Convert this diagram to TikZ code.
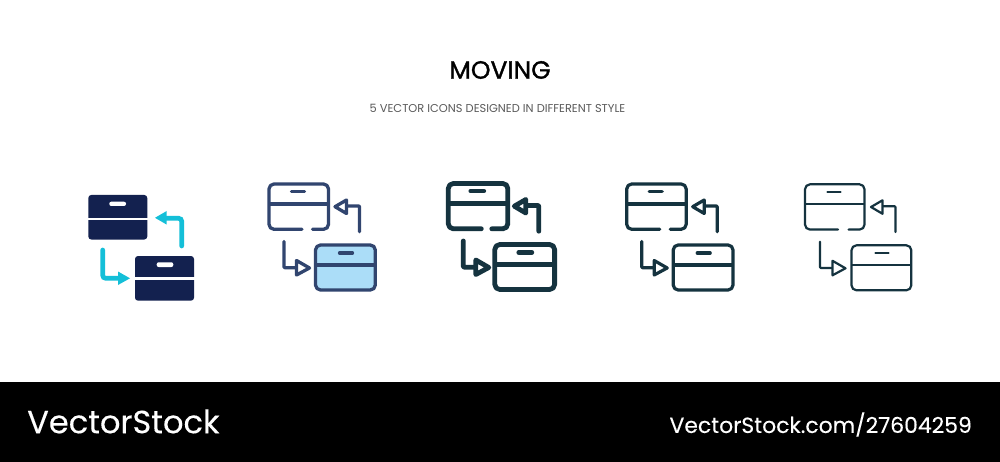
\documentclass[tikz,border=0pt]{standalone}
\usepackage{fontspec}
\setmainfont{Poppins}
\newfontfamily\titlefont[FakeBold=1.3]{Poppins}
\newfontfamily\brandfont[FakeBold=.15]{Poppins}
\usepackage{tikz}
\definecolor{NavyBox}{HTML}{13214F}
\definecolor{CyanArrow}{HTML}{14BFD8}
\definecolor{SlateLine}{HTML}{31456F}
\definecolor{PetrolLine}{HTML}{15333F}
\definecolor{PaleBlue}{HTML}{ABDDF8}
\definecolor{CaptionGray}{HTML}{5A5A5A}
\tikzset{
	iconline/.style={line cap=round, line join=round, rounded corners=.8pt},
	boxline/.style={line cap=round, line join=round, rounded corners=5pt},
	headline/.style={line join=round, fill=white},
}
% one outlined icon: x, y, line width, colour, fill of the lower box
\newcommand{\movingicon}[5]{
	\begin{scope}[shift={(#1,#2)}, line width=#3pt, draw=#4]
	\draw[boxline] (33,45.3) -- (0,45.3) -- (0,0) -- (59.5,0) -- (59.5,45.3) -- (43.5,45.3);
	\draw (0,20) -- (59.5,20);
	\draw[line cap=round] (22.5,7.5) -- (35.5,7.5);
	\draw[boxline, fill=#5] (46.5,61) rectangle (106.3,106);
	\draw (46.5,81) -- (106.3,81);
	\draw[line cap=round] (70.5,69) -- (83.5,69);
	\draw[iconline] (90.5,47.7) -- (90.5,22) -- (77.5,22);
	\draw[headline] (77.5,16) -- (66,22.7) -- (77.5,29.5) -- cycle;
	\draw[iconline] (15,57.5) -- (15,83.7) -- (27.5,83.7);
	\draw[headline] (27.5,76.5) -- (40.5,84) -- (27.5,91) -- cycle;
	\end{scope}
}
\begin{document}
\begin{tikzpicture}[x=1pt, y=-1pt]
	\useasboundingbox (0,0) rectangle (1000,462);
	\fill[white] (0,0) rectangle (1000,462);
	\fill[black] (0,382) rectangle (1000,462);
	\node[font=\fontsize{25}{27}\selectfont\titlefont] (title) at (500,70) {MOVING};
	\node[font=\fontsize{11.4}{13}\selectfont, color=CaptionGray] (caption) at (497.5,108) {5 VECTOR ICONS DESIGNED IN DIFFERENT STYLE};
	% filled icon
	\fill[NavyBox, rounded corners=3pt] (88.3,195) rectangle (147.3,239.5);
	\fill[white] (88,217.7) rectangle (148,220);
	\fill[white, rounded corners=2pt] (109.3,201.7) rectangle (126,206);
	\fill[NavyBox, rounded corners=3pt] (135,256) rectangle (194,300.7);
	\fill[white] (134,276.7) rectangle (195,280);
	\fill[white, rounded corners=2pt] (156.7,262.3) rectangle (173.3,267);
	\draw[CyanArrow, line width=4.7pt, line cap=round, rounded corners=3pt] (181.7,246) -- (181.7,218.3) -- (164,218.3);
	\fill[CyanArrow] (166.7,211) -- (155,217.8) -- (166.7,224.6) -- cycle;
	\draw[CyanArrow, line width=4.7pt, line cap=round, rounded corners=3pt] (102.7,250) -- (102.7,278.3) -- (120,278.3);
	\fill[CyanArrow] (118,271.5) -- (130,278.3) -- (118,285) -- cycle;
	% outlined icons
	\movingicon{269}{184}{3.3}{SlateLine}{PaleBlue}
	\movingicon{448.3}{183.5}{4.8}{PetrolLine}{white}
	\movingicon{626.7}{184}{3.2}{PetrolLine}{white}
	\movingicon{805}{184.3}{2.2}{PetrolLine}{white}
	% footer
	\node[anchor=west, text=white, inner sep=0pt, font=\fontsize{32.1}{36}\selectfont\brandfont] (brand) at (27,421.5) {VectorStock};
	\node[anchor=east, text=white, inner sep=0pt, font=\fontsize{21.9}{26}\selectfont\brandfont] (link) at (972,424.5) {VectorStock.com/27604259};
\end{tikzpicture}
\end{document}
